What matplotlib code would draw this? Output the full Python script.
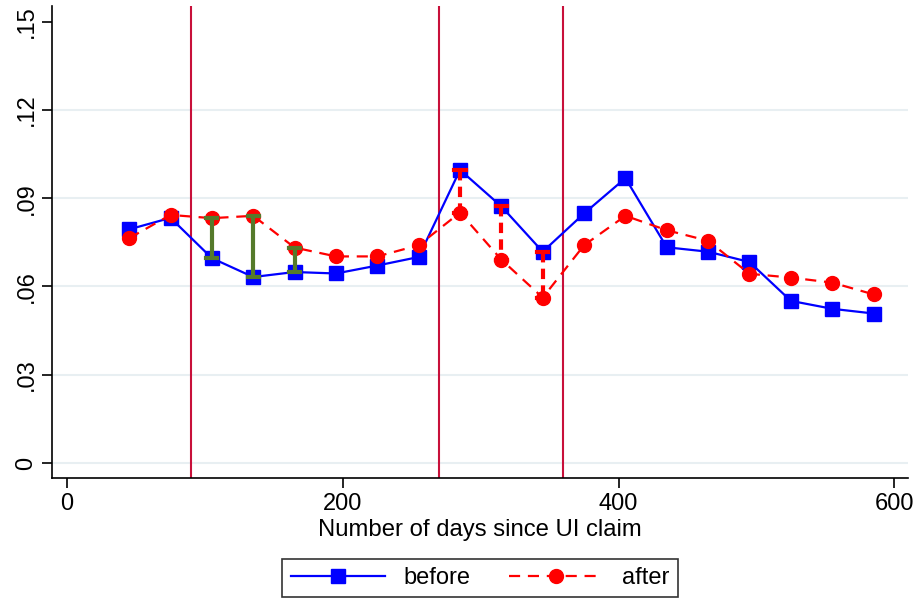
import numpy as np
import matplotlib
matplotlib.use("Agg")
import matplotlib.pyplot as plt

plt.rcParams['font.family'] = ['Liberation Sans', 'DejaVu Sans']

# Datos
dias = [45, 75, 105, 135, 165, 195, 225, 255, 285, 315, 345, 375, 405, 435, 465, 495, 525, 555, 585]
antes = [0.0794, 0.0833, 0.0696, 0.0632, 0.0649, 0.0644, 0.0671, 0.0700, 0.0996, 0.0872, 0.0718,
         0.0848, 0.0968, 0.0733, 0.0718, 0.0683, 0.0551, 0.0524, 0.0508]
despues = [0.0764, 0.0843, 0.0832, 0.0840, 0.0732, 0.0702, 0.0702, 0.0740, 0.0851, 0.0691, 0.0562,
           0.0740, 0.0840, 0.0791, 0.0755, 0.0643, 0.0630, 0.0613, 0.0573]
cortes = [90, 270, 360]
idx_verde = [2, 3, 4]
idx_rojo = [8, 9, 10]
yticks = [0, 0.03, 0.06, 0.09, 0.12, 0.15]
ytick_labels = ["0", ".03", ".06", ".09", ".12", ".15"]
xticks = [0, 200, 400, 600]

fig = plt.figure(figsize=(9.16, 6.01), dpi=100)
ax = fig.add_axes([52 / 916, 1 - 478 / 601, (908 - 52) / 916, (478 - 6) / 601])

# Rejilla
for y in yticks[:-1]:
    ax.axhline(y, color="#e8eff2", lw=1.5, zorder=0)

# Lineas verticales
for c in cortes:
    ax.axvline(c, color="#c8103a", lw=1.5, zorder=1)

# Series
ax.plot(dias, antes, color="#0000ff", lw=1.6, marker="s", ms=9.5, label="before", zorder=3)
ax.plot(dias, despues, color="#ff0000", lw=1.6, ls=(0, (5, 3.5)), marker="o", ms=10,
        label="after", zorder=3)

# Barras de diferencia (rcap)
for i in idx_verde:
    ax.plot([dias[i], dias[i]], [antes[i], despues[i]], color="#557a2b", lw=3, zorder=4,
            solid_capstyle="butt")
    for y in (antes[i], despues[i]):
        ax.plot([dias[i] - 4, dias[i] + 4], [y, y], color="#557a2b", lw=3, zorder=4)
for i in idx_rojo:
    ax.plot([dias[i], dias[i]], [antes[i], despues[i]], color="#ff0000", lw=3,
            ls=(0, (2.5, 1.5)), zorder=4)
    for y in (antes[i], despues[i]):
        ax.plot([dias[i] - 4, dias[i] + 4], [y, y], color="#ff0000", lw=3, zorder=4)

ax.set_xlim(-11, 610)
ax.set_ylim(-0.0051, 0.1553)
ax.set_xticks(xticks)
ax.set_yticks(yticks)
ax.set_yticklabels(ytick_labels, rotation=90, va="center")
ax.tick_params(axis="both", labelsize=17, length=7, width=1.2, color="black")
ax.spines["top"].set_visible(False)
ax.spines["right"].set_visible(False)
ax.spines["left"].set_linewidth(1.2)
ax.spines["bottom"].set_linewidth(1.2)
ax.set_xlabel("Number of days since UI claim", fontsize=17.2, labelpad=3)

leg = fig.legend(loc="center", bbox_to_anchor=(480 / 916, 1 - 578 / 601), ncol=2,
                 fontsize=17, frameon=True, fancybox=False, edgecolor="black",
                 handlelength=4, columnspacing=1.6, borderpad=0.35)
leg.get_frame().set_linewidth(1.2)

fig.savefig("out.png", dpi=100)
